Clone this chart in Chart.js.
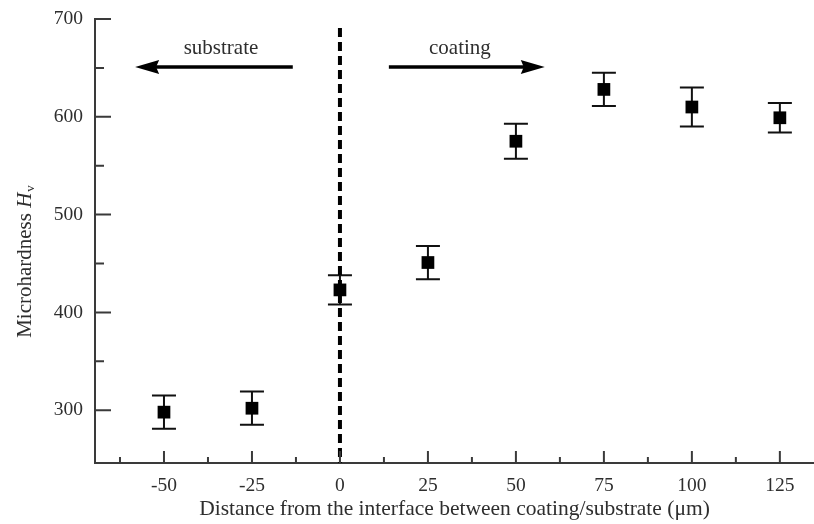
<!DOCTYPE html>
<html>
<head>
<meta charset="utf-8">
<script src="https://cdn.jsdelivr.net/npm/chart.js@4.4.1/dist/chart.umd.min.js"></script>
<style>
  html, body { margin: 0; padding: 0; background: #fff; }
  #wrap { width: 814px; height: 524px; }
</style>
</head>
<body>
<div id="wrap"><canvas id="c" width="814" height="524"></canvas></div>
<script>
// Microhardness profile across the coating/substrate interface
const positions = [-50, -25, 0, 25, 50, 75, 100, 125];
const hardness  = [298, 302, 423, 451, 575, 628, 610, 599];
const errors    = [17, 17, 15, 17, 18, 17, 20, 15];

const xTicks = [-50, -25, 0, 25, 50, 75, 100, 125];
const xMinor = [-62.5, -37.5, -12.5, 12.5, 37.5, 62.5, 87.5, 112.5];
const yTicks = [300, 400, 500, 600, 700];
const yMinor = [350, 450, 550, 650];

// Direction markers drawn above the data
const arrowY = 651;
const substrateArrow = [-13.4, -58.2];
const coatingArrow = [13.9, 58.2];
const substrateLabelX = -33.8;
const coatingLabelX = 34.1;

const axisColor = '#3a3a3a';
const textColor = '#2e2e2e';
const serif = '"Liberation Serif", "Times New Roman", serif';

const annotations = {
  id: 'annotations',
  beforeDatasetsDraw(chart) {
    const { ctx, scales: { x, y } } = chart;
    ctx.save();
    // error bars
    ctx.strokeStyle = '#111';
    ctx.lineWidth = 2;
    positions.forEach((p, i) => {
      const px = x.getPixelForValue(p);
      const top = y.getPixelForValue(hardness[i] + errors[i]);
      const bot = y.getPixelForValue(hardness[i] - errors[i]);
      ctx.beginPath();
      ctx.moveTo(px, top); ctx.lineTo(px, bot);
      ctx.moveTo(px - 12, top); ctx.lineTo(px + 12, top);
      ctx.moveTo(px - 12, bot); ctx.lineTo(px + 12, bot);
      ctx.stroke();
    });
    // interface line
    const x0 = x.getPixelForValue(0);
    ctx.strokeStyle = '#000';
    ctx.lineWidth = 4;
    ctx.setLineDash([9, 5]);
    ctx.beginPath();
    ctx.moveTo(x0, 28);
    ctx.lineTo(x0, y.bottom);
    ctx.stroke();
    ctx.setLineDash([]);
    ctx.restore();
  },
  afterDraw(chart) {
    const { ctx, scales: { x, y } } = chart;
    ctx.save();
    // inward tick marks
    ctx.strokeStyle = axisColor;
    ctx.lineWidth = 2;
    ctx.beginPath();
    xTicks.forEach(v => { const px = x.getPixelForValue(v); ctx.moveTo(px, y.bottom); ctx.lineTo(px, y.bottom - 12); });
    xMinor.forEach(v => { const px = x.getPixelForValue(v); ctx.moveTo(px, y.bottom); ctx.lineTo(px, y.bottom - 6); });
    yTicks.forEach(v => { const py = y.getPixelForValue(v); ctx.moveTo(x.left, py); ctx.lineTo(x.left + 16, py); });
    yMinor.forEach(v => { const py = y.getPixelForValue(v); ctx.moveTo(x.left, py); ctx.lineTo(x.left + 9, py); });
    ctx.stroke();

    // arrows
    const ay = y.getPixelForValue(arrowY);
    const drawArrow = (from, to) => {
      const a = x.getPixelForValue(from), b = x.getPixelForValue(to);
      const dir = Math.sign(b - a);
      ctx.strokeStyle = '#000';
      ctx.fillStyle = '#000';
      ctx.lineWidth = 3.5;
      ctx.beginPath();
      ctx.moveTo(a, ay); ctx.lineTo(b - dir * 16, ay);
      ctx.stroke();
      ctx.beginPath();
      ctx.moveTo(b, ay);
      ctx.lineTo(b - dir * 24, ay - 7);
      ctx.lineTo(b - dir * 21, ay);
      ctx.lineTo(b - dir * 24, ay + 7);
      ctx.closePath();
      ctx.fill();
    };
    drawArrow(substrateArrow[0], substrateArrow[1]);
    drawArrow(coatingArrow[0], coatingArrow[1]);

    ctx.fillStyle = textColor;
    ctx.font = '21px ' + serif;
    ctx.textAlign = 'center';
    ctx.textBaseline = 'alphabetic';
    ctx.fillText('substrate', x.getPixelForValue(substrateLabelX), ay - 13);
    ctx.fillText('coating', x.getPixelForValue(coatingLabelX), ay - 13);

    // y axis title with italic H and subscript v
    ctx.translate(25, 262);
    ctx.rotate(-Math.PI / 2);
    const part1 = 'Microhardness ';
    ctx.font = '21px ' + serif;
    const w1 = ctx.measureText(part1).width;
    ctx.font = 'italic 21px ' + serif;
    const w2 = ctx.measureText('H').width;
    ctx.font = '13px ' + serif;
    const w3 = ctx.measureText('v').width;
    let cx = -(w1 + w2 + w3) / 2;
    ctx.textAlign = 'left';
    ctx.textBaseline = 'middle';
    ctx.font = '21px ' + serif;
    ctx.fillText(part1, cx, 0); cx += w1;
    ctx.font = 'italic 21px ' + serif;
    ctx.fillText('H', cx, 0); cx += w2 + 1;
    ctx.font = '13px ' + serif;
    ctx.fillText('v', cx, 6);
    ctx.restore();
  }
};

new Chart(document.getElementById('c'), {
  type: 'scatter',
  data: {
    datasets: [{
      data: positions.map((p, i) => ({ x: p, y: hardness[i] })),
      pointStyle: 'rect',
      pointRadius: 9,
      pointHoverRadius: 9,
      backgroundColor: '#000',
      borderColor: '#000',
      borderWidth: 0
    }]
  },
  options: {
    responsive: false,
    animation: false,
    events: [],
    layout: { autoPadding: false, padding: { top: 19, right: 0, left: 0, bottom: 0 } },
    plugins: { legend: { display: false }, tooltip: { enabled: false } },
    scales: {
      x: {
        type: 'linear',
        min: -69.6,
        max: 134.7,
        afterBuildTicks: s => { s.ticks = xTicks.map(v => ({ value: v })); },
        afterFit: s => { s.height = 61; s.paddingLeft = 0; s.paddingRight = 0; },
        grid: { display: false, drawTicks: false },
        border: { display: true, color: axisColor, width: 2 },
        ticks: { color: textColor, font: { family: serif, size: 19.5 }, padding: 11, maxRotation: 0 },
        title: {
          display: true,
          text: 'Distance from the interface between coating/substrate (μm)',
          color: textColor,
          font: { family: serif, size: 21.5 },
          padding: { top: 0, bottom: 2 }
        }
      },
      y: {
        min: 246,
        max: 700,
        afterBuildTicks: s => { s.ticks = yTicks.map(v => ({ value: v })); },
        afterFit: s => { s.width = 95; s.paddingTop = 0; s.paddingBottom = 0; },
        grid: { display: false, drawTicks: false },
        border: { display: true, color: axisColor, width: 2 },
        ticks: { color: textColor, font: { family: serif, size: 19.5 }, padding: 12 }
      }
    }
  },
  plugins: [annotations]
});
</script>
</body>
</html>
